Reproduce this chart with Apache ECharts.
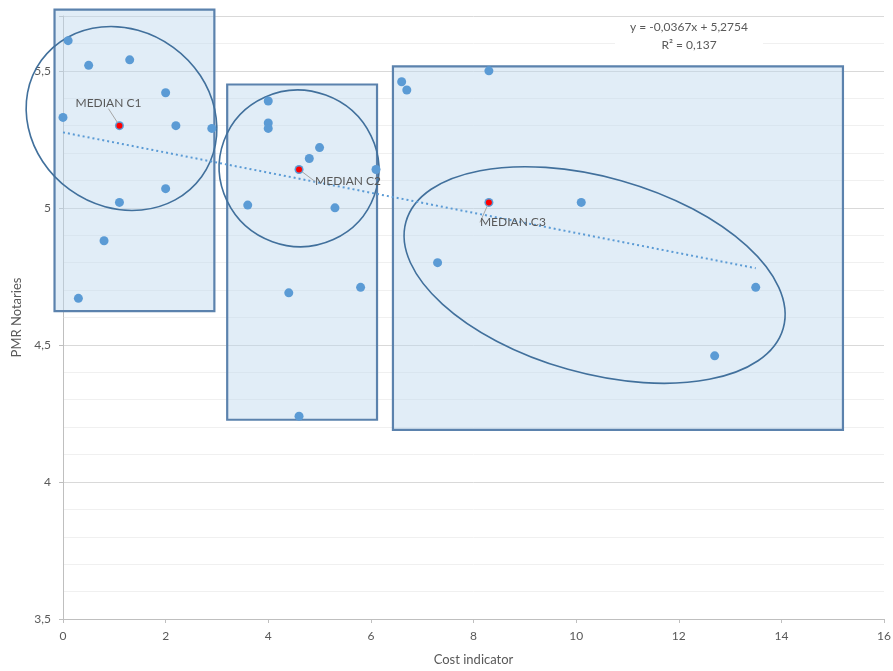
<!DOCTYPE html>
<html>
<head>
<meta charset="utf-8">
<script src="https://cdn.jsdelivr.net/npm/echarts@6/dist/echarts.min.js"></script>
<style>html,body{margin:0;padding:0;background:#fff;}#c{width:893px;height:671px;}</style>
</head>
<body>
<div id="c"></div>
<script>
// ---- data ----
const costX = [0.1, 0.5, 1.3, 0.0, 1.1, 2.0, 2.2, 2.9, 2.0, 1.1, 0.8, 0.3,
               4.0, 4.0, 4.0, 5.0, 4.8, 4.6, 6.1, 3.6, 5.3, 4.4, 5.8, 4.6,
               8.3, 6.6, 6.7, 8.3, 10.1, 7.3, 13.5, 12.7];
const pmrY  = [5.61, 5.52, 5.54, 5.33, 5.30, 5.42, 5.30, 5.29, 5.07, 5.02, 4.88, 4.67,
               5.39, 5.31, 5.29, 5.22, 5.18, 5.14, 5.14, 5.01, 5.00, 4.69, 4.71, 4.24,
               5.50, 5.46, 5.43, 5.02, 5.02, 4.80, 4.71, 4.46];
const medianNames = ['MEDIAN C1', 'MEDIAN C2', 'MEDIAN C3'];
const medianX = [1.1, 4.6, 8.3];
const medianY = [5.30, 5.14, 5.02];
const trendSlope = -0.0367;
const trendIntercept = 5.2754;
const trendR2 = 0.137;
const trendRange = [0, 13.5];
const xTicks = [0, 2, 4, 6, 8, 10, 12, 14, 16];
const yTicks = [3.5, 4, 4.5, 5, 5.5];

// ---- annotation shapes (data coordinates) ----
const boxes = [
  {x0: -0.165, x1: 2.95, y0: 4.623, y1: 5.723},
  {x0: 3.20, x1: 6.12, y0: 4.227, y1: 5.45},
  {x0: 6.43, x1: 15.2, y0: 4.19, y1: 5.516}
];
const ellipses = [
  {cx: 1.14, cy: 5.326, rx: 99, ry: 88, rot: 36},
  {cx: 4.60, cy: 5.144, rx: 80, ry: 78, rot: 20},
  {cx: 10.36, cy: 4.755, rx: 196, ry: 98, rot: 15.75}
];

const fmt = v => String(v).replace('.', ',');
const FONT = 'Lato, "Open Sans", sans-serif';
const TXT = '#595959';

const points = costX.map((x, i) => [x, pmrY[i]]);
const medians = medianX.map((x, i) => ({name: medianNames[i], value: [x, medianY[i]]}));
const trend = trendRange.map(x => [x, trendSlope * x + trendIntercept]);
const labelOffsets = [[-11, -23], [49, 12], [24, 20]];

const chart = echarts.init(document.getElementById('c'), null, {renderer: 'canvas'});
chart.setOption({
  animation: false,
  backgroundColor: '#fff',
  grid: {left: 63, right: 9, top: 16, bottom: 52, containLabel: false, outerBoundsMode: 'none'},
  xAxis: {
    type: 'value', min: xTicks[0], max: xTicks[xTicks.length - 1], interval: 2,
    name: 'Cost indicator', nameLocation: 'middle', nameGap: 34,
    nameTextStyle: {color: TXT, fontSize: 13, fontFamily: FONT},
    axisLine: {show: true, lineStyle: {color: '#bfbfbf'}},
    axisTick: {show: true, length: 4, lineStyle: {color: '#bfbfbf'}},
    axisLabel: {color: TXT, fontSize: 12, fontFamily: FONT, formatter: fmt, margin: 11},
    splitLine: {show: false}
  },
  yAxis: {
    type: 'value', min: yTicks[0], max: 5.7, interval: 0.5,
    name: 'PMR Notaries', nameLocation: 'middle', nameGap: 40,
    nameTextStyle: {color: TXT, fontSize: 13, fontFamily: FONT},
    axisLine: {show: true, lineStyle: {color: '#bfbfbf'}},
    axisTick: {show: true, length: 4, lineStyle: {color: '#bfbfbf'}},
    axisLabel: {color: TXT, fontSize: 12, fontFamily: FONT, margin: 12,
      formatter: v => (yTicks.indexOf(+v.toFixed(2)) >= 0 ? fmt(+v.toFixed(2)) : '')},
    splitLine: {show: true, lineStyle: {color: '#d9d9d9'}},
    minorTick: {show: false, splitNumber: 5},
    minorSplitLine: {show: true, lineStyle: {color: '#f0f0f0'}}
  },
  series: [
    {
      type: 'line', data: trend, symbol: 'none', z: 3,
      lineStyle: {color: '#5b9bd5', width: 2, type: [2, 3]}
    },
    {
      type: 'scatter', data: points, symbolSize: 9, z: 4,
      itemStyle: {color: '#5b9bd5', opacity: 1}
    },
    {
      type: 'scatter', data: medians, symbolSize: 6, z: 5,
      itemStyle: {color: '#ff0000', opacity: 1},
      label: {show: true, position: 'inside', formatter: p => p.name,
        color: TXT, fontSize: 12, fontFamily: FONT},
      labelLayout: p => ({dx: labelOffsets[p.dataIndex][0], dy: labelOffsets[p.dataIndex][1], hideOverlap: false}),
      labelLine: {show: true, lineStyle: {color: '#a6a6a6', width: 1}}
    }
  ]
});

function buildGraphics() {
  const g = [];
  boxes.forEach(b => {
    const p0 = chart.convertToPixel({gridIndex: 0}, [b.x0, b.y1]);
    const p1 = chart.convertToPixel({gridIndex: 0}, [b.x1, b.y0]);
    g.push({type: 'rect', z: 1, silent: true,
      shape: {x: p0[0], y: p0[1], width: p1[0] - p0[0], height: p1[1] - p0[1]},
      style: {fill: 'rgba(189,214,238,0.45)', stroke: '#5b82ad', lineWidth: 2.2}});
  });
  ellipses.forEach(e => {
    const c = chart.convertToPixel({gridIndex: 0}, [e.cx, e.cy]);
    g.push({type: 'ellipse', z: 2, silent: true,
      x: c[0], y: c[1], rotation: -e.rot * Math.PI / 180,
      shape: {cx: 0, cy: 0, rx: e.rx, ry: e.ry},
      style: {fill: 'none', stroke: '#41709c', lineWidth: 1.6}});
  });
  const t = chart.convertToPixel({gridIndex: 0}, [12.2, 5.625]);
  g.push({type: 'rect', z: 6, silent: true,
    shape: {x: t[0] - 74, y: t[1] - 18, width: 148, height: 34},
    style: {fill: '#ffffff'}});
  g.push({type: 'text', z: 7, silent: true, x: t[0], y: t[1],
    style: {text: 'y = ' + fmt(trendSlope) + 'x + ' + fmt(trendIntercept) + '\nR² = ' + fmt(trendR2),
      align: 'center', verticalAlign: 'middle', fill: TXT, fontSize: 12, fontFamily: FONT, lineHeight: 18}});
  chart.setOption({graphic: g});
}
buildGraphics();
</script>
</body>
</html>
